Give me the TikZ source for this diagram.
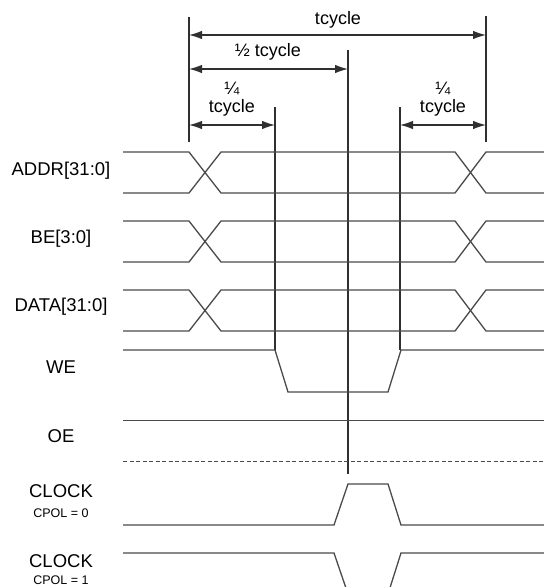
\documentclass[tikz,border=0pt]{standalone}
\usepackage{fontspec}
\setmainfont{Liberation Sans}
\usetikzlibrary{arrows.meta}
\definecolor{sig}{HTML}{4A4A4A}
\definecolor{mark}{HTML}{303030}
\tikzset{
  lbl/.style={inner sep=0pt, font=\fontsize{18.5}{20}\selectfont},
  sublbl/.style={inner sep=0pt, font=\fontsize{12.5}{14}\selectfont},
  dimlbl/.style={inner sep=0pt, font=\fontsize{18}{20}\selectfont, align=center},
  signal/.style={draw=sig, line width=1.3pt, line join=miter},
  marker/.style={draw=mark, line width=1.2pt},
  dimarrow/.style={draw=mark, line width=1.2pt, {Latex[length=13pt,width=8.5pt]}-{Latex[length=13pt,width=8.5pt]}},
}
\begin{document}
\begin{tikzpicture}[x=1pt,y=-1pt]
\clip (0,0) rectangle (544,587);
% marker lines
\coordinate (a1) at (189,17);  \coordinate (a2) at (189,142);
\coordinate (e1) at (486,16);  \coordinate (e2) at (486,142);
\coordinate (b1) at (275,107); \coordinate (b2) at (275,350);
\coordinate (c1) at (348,50);  \coordinate (c2) at (348,474);
\coordinate (d1) at (400,107); \coordinate (d2) at (400,350);
\draw[marker] (a1) -- (a2);
\draw[marker] (e1) -- (e2);
\draw[marker] (b1) -- (b2);
\draw[marker] (c1) -- (c2);
\draw[marker] (d1) -- (d2);
% dimension arrows
\coordinate (t1) at (189,35);  \coordinate (t2) at (486,35);
\coordinate (h1) at (189,69);  \coordinate (h2) at (348,69);
\coordinate (q1) at (189,125); \coordinate (q2) at (275,125);
\coordinate (r1) at (400,125); \coordinate (r2) at (486,125);
\draw[dimarrow] (t1) -- (t2);
\draw[dimarrow] (h1) -- (h2);
\draw[dimarrow] (q1) -- (q2);
\draw[dimarrow] (r1) -- (r2);
\node[dimlbl] (tc) at (338,20) {tcycle};
\node[dimlbl] (htc) at (268,52) {½ tcycle};
\node[dimlbl] (ql1) at (232,88) {¼};
\node[dimlbl] (ql2) at (232,108) {tcycle};
\node[dimlbl] (qr1) at (443,88) {¼};
\node[dimlbl] (qr2) at (443,108) {tcycle};
% labels
\node[lbl] (addr) at (61,170.5) {ADDR[31:0]};
\node[lbl] (be) at (61,239) {BE[3:0]};
\node[lbl] (data) at (61,307) {DATA[31:0]};
\node[lbl] (we) at (61,367) {WE};
\node[lbl] (oe) at (61,436.5) {OE};
\node[lbl] (clk0) at (61,491) {CLOCK};
\node[sublbl] (cp0) at (61,513) {CPOL = 0};
\node[lbl] (clk1) at (61,561) {CLOCK};
\node[sublbl] (cp1) at (61,580) {CPOL = 1};
% bus signals
\foreach \yt/\yb in {152/193, 221/262, 290/331}{
  \draw[signal] (123,\yt) -- (189,\yt) -- (221,\yb) -- (455,\yb) -- (486,\yt) -- (544,\yt);
  \draw[signal] (123,\yb) -- (189,\yb) -- (221,\yt) -- (455,\yt) -- (486,\yb) -- (544,\yb);
}
% WE
\draw[signal] (123,350) -- (275,350) -- (288,392) -- (388,392) -- (401,350) -- (544,350);
% OE
\draw[signal] (123,420.5) -- (544,420.5);
\draw[signal, line width=1pt, dash pattern=on 4pt off 2.5pt] (123,461) -- (544,461);
% CLOCK CPOL=0
\draw[signal] (123,525) -- (334,525) -- (348,484) -- (388,484) -- (401,525) -- (544,525);
% CLOCK CPOL=1
\draw[signal] (123,553) -- (334,553) -- (348,594) -- (388,594) -- (401,553) -- (544,553);
\end{tikzpicture}
\end{document}
